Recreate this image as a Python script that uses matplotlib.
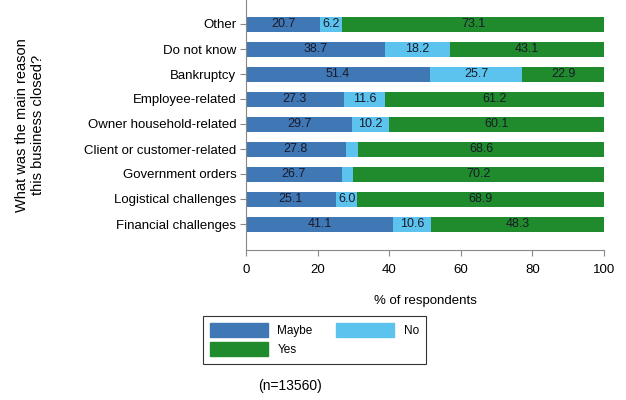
import matplotlib
matplotlib.use("Agg")
import matplotlib.pyplot as plt
import matplotlib.patches as mpatches
import numpy as np

plt.rcParams["font.family"] = ["Liberation Sans", "DejaVu Sans"]

# data, top to bottom as in the chart
reasons = ["Other", "Do not know", "Bankruptcy", "Employee-related",
           "Owner household-related", "Client or customer-related",
           "Government orders", "Logistical challenges", "Financial challenges"]
maybe = [20.7, 38.7, 51.4, 27.3, 29.7, 27.8, 26.7, 25.1, 41.1]
no = [6.2, 18.2, 25.7, 11.6, 10.2, 3.6, 3.1, 6.0, 10.6]
yes = [73.1, 43.1, 22.9, 61.2, 60.1, 68.6, 70.2, 68.9, 48.3]

series = [("Maybe", maybe, "#3f78b5"), ("No", no, "#5cc3ee"), ("Yes", yes, "#1f8b2c")]

fig = plt.figure(figsize=(6.26, 4.0), dpi=100)
ax = fig.add_axes([246 / 626, 150 / 400, 358 / 626, 250 / 400])

y = np.arange(len(reasons))
left = np.zeros(len(reasons))
for name, vals, col in series:
    vals = np.array(vals)
    ax.barh(y, vals, left=left, height=0.6, color=col, label=name)
    for yi, l, v in zip(y, left, vals):
        if v >= 5:
            ax.text(l + v / 2, yi, f"{v:.1f}", ha="center", va="center",
                    fontsize=9, color="#1a1a2a")
    left += vals

ax.set_ylim(len(reasons) - 1 + 1.04, -0.96)
ax.set_xlim(0, 100)
ax.set_yticks(y)
ax.set_yticklabels(reasons, fontsize=9.5)
ax.set_xticks([0, 20, 40, 60, 80, 100])
ax.tick_params(axis="x", labelsize=9.5, length=4, color="#888888", pad=6)
ax.tick_params(axis="y", length=4, color="#888888", pad=3)
for s in ["top", "right"]:
    ax.spines[s].set_visible(False)
for s in ["left", "bottom"]:
    ax.spines[s].set_color("#888888")
    ax.spines[s].set_linewidth(0.8)

ax.set_xlabel("% of respondents", fontsize=9.5, labelpad=14)
fig.text(30 / 626, 1 - 125 / 400, "What was the main reason\nthis business closed?",
         rotation=90, ha="center", va="center", fontsize=10.5, linespacing=1.1)

patches = {n: mpatches.Patch(color=c, label=n) for n, _, c in series}
# row-wise order: Maybe, No / Yes
handles = [patches["Maybe"], patches["Yes"], patches["No"]]
leg = fig.legend(handles=handles, ncol=2, loc="upper left",
                 bbox_to_anchor=(203 / 626, 1 - 316 / 400), borderaxespad=0,
                 fontsize=8.5, frameon=True, fancybox=False, edgecolor="black",
                 handlelength=4.9, handleheight=1.45, columnspacing=2.0,
                 handletextpad=0.8, borderpad=0.6, labelspacing=0.45)
leg.get_frame().set_linewidth(0.8)

fig.text(290 / 626, 1 - 386 / 400, "(n=13560)", ha="center", va="center", fontsize=10)

fig.savefig("out.png", dpi=100)
